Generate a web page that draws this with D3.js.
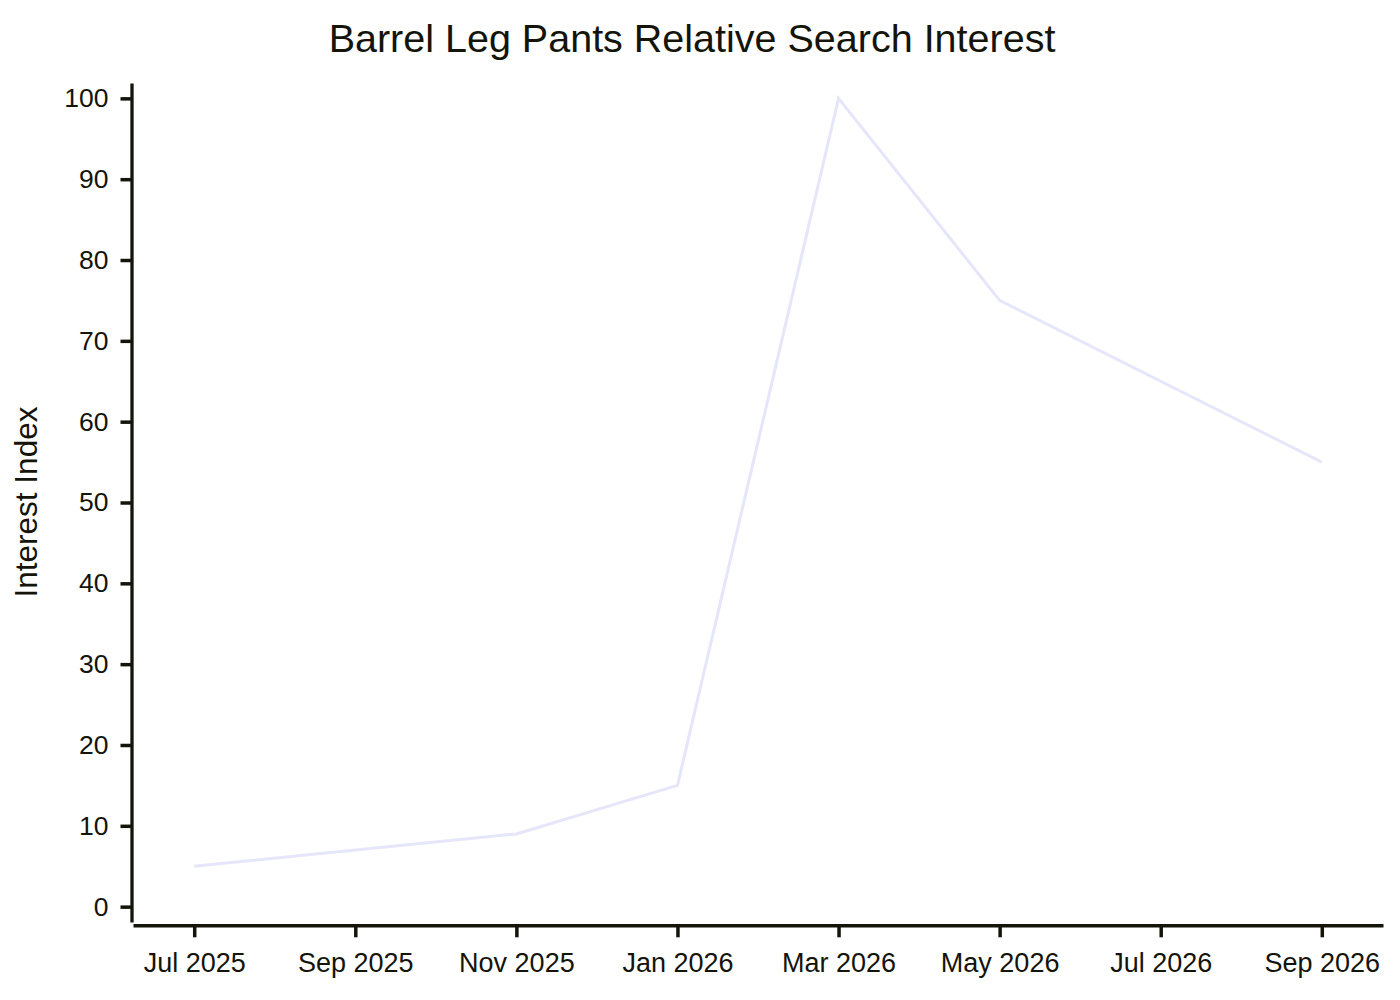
<!DOCTYPE html>
<html>
<head>
<meta charset="utf-8">
<script src="https://cdn.jsdelivr.net/npm/d3@7"></script>
<style>
  body { margin: 0; background: #fff; }
  text { font-family: "Liberation Sans", Arial, sans-serif; fill: #14140a; }
</style>
</head>
<body>
<script>
// months shown on the x axis
var months = ["Jul 2025", "Sep 2025", "Nov 2025", "Jan 2026", "Mar 2026", "May 2026", "Jul 2026", "Sep 2026"];
// relative search interest for each month
var interest = [5, 7, 9, 15, 100, 75, 65, 55];
var yTicks = [0, 10, 20, 30, 40, 50, 60, 70, 80, 90, 100];

var width = 1400,
    height = 1000;

var svg = d3.select("body")
    .append("svg")
    .attr("width", width)
    .attr("height", height);

// index scale with a bit of padding either side
var x = d3.scaleLinear()
    .domain([-0.38, months.length - 1 + 0.38])
    .range([133, 1383]);

var y = d3.scaleLinear()
    .domain([-1.9, 101.9])
    .range([922, 83]);

var ink = "#14140a";

// y axis
var yAxis = svg.append("g")
    .attr("transform", "translate(131.5,0)")
    .call(d3.axisLeft(y).tickValues(yTicks).tickSize(11).tickPadding(12).tickSizeOuter(0));
yAxis.select(".domain").attr("stroke", ink).attr("stroke-width", 3.3);
yAxis.selectAll(".tick line").attr("stroke", ink).attr("stroke-width", 3.5);
yAxis.selectAll(".tick text").attr("font-size", 26.5).style("fill", ink);

// x axis
var xAxis = svg.append("g")
    .attr("transform", "translate(0,925.3)")
    .call(d3.axisBottom(x)
        .tickValues(d3.range(months.length))
        .tickFormat(function(i){ return months[i]; })
        .tickSize(12).tickPadding(16).tickSizeOuter(0));
xAxis.select(".domain").attr("stroke", ink).attr("stroke-width", 3.5);
xAxis.selectAll(".tick line").attr("stroke", ink).attr("stroke-width", 3.5);
xAxis.selectAll(".tick text").attr("font-size", 27).style("fill", ink);

// the series line
var line = d3.line()
    .x(function(d, i){ return x(i); })
    .y(function(d){ return y(d); });

svg.append("path")
    .datum(interest)
    .attr("fill", "none")
    .attr("stroke", "#e6e6fa")
    .attr("stroke-width", 3)
    .attr("d", line);

// title
svg.append("text")
    .attr("x", 692)
    .attr("y", 52)
    .attr("text-anchor", "middle")
    .attr("font-size", 39.5)
    .text("Barrel Leg Pants Relative Search Interest");

// y label
svg.append("text")
    .attr("transform", "translate(37,502) rotate(-90)")
    .attr("text-anchor", "middle")
    .attr("font-size", 31.5)
    .text("Interest Index");
</script>
</body>
</html>
